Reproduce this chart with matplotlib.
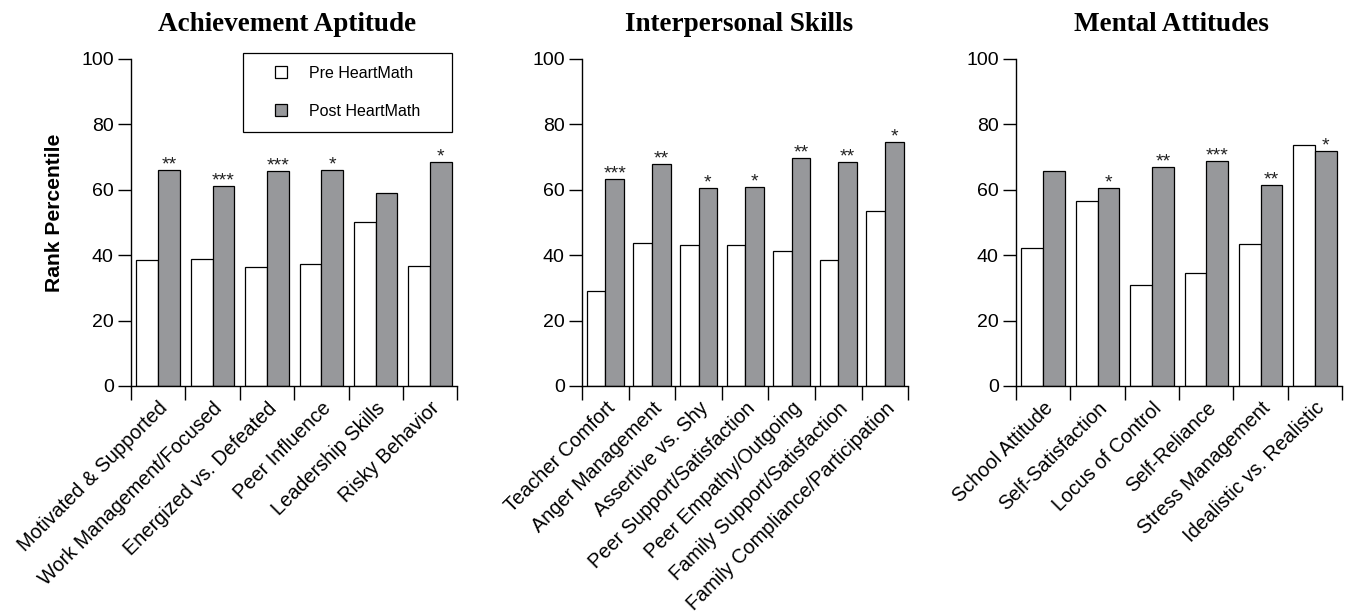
import matplotlib
matplotlib.use("Agg")
import matplotlib.pyplot as plt
from matplotlib.lines import Line2D
import numpy as np

#########################################################
# DATA
#########################################################
titles = ["Achievement Aptitude", "Interpersonal Skills", "Mental Attitudes"]

cats_achievement = ["Motivated & Supported", "Work Management/Focused",
                    "Energized vs. Defeated", "Peer Influence",
                    "Leadership Skills", "Risky Behavior"]
pre_achievement = [38.5, 38.7, 36.5, 37.2, 50.1, 36.7]
post_achievement = [66.0, 61.3, 65.7, 66.2, 59.0, 68.5]
stars_achievement = ["**", "***", "***", "*", "", "*"]

cats_interpersonal = ["Teacher Comfort", "Anger Management", "Assertive vs. Shy",
                      "Peer Support/Satisfaction", "Peer Empathy/Outgoing",
                      "Family Support/Satisfaction",
                      "Family Compliance/Participation"]
pre_interpersonal = [29.1, 43.8, 43.1, 43.0, 41.4, 38.5, 53.5]
post_interpersonal = [63.2, 68.0, 60.5, 60.9, 69.7, 68.6, 74.6]
stars_interpersonal = ["***", "**", "*", "*", "**", "**", "*"]

cats_mental = ["School Attitude", "Self-Satisfaction", "Locus of Control",
               "Self-Reliance", "Stress Management", "Idealistic vs. Realistic"]
pre_mental = [42.1, 56.6, 30.8, 34.5, 43.5, 73.7]
post_mental = [65.8, 60.5, 66.9, 68.7, 61.4, 71.8]
stars_mental = ["", "*", "**", "***", "**", "*"]

y_ticks = [0, 20, 40, 60, 80, 100]

#########################################################
# STYLE
#########################################################
COLOR_PRE = "white"
COLOR_POST = "#97989b"
SANS = "Liberation Sans"
SERIF = "Liberation Serif"
W = 0.4

fig = plt.figure(figsize=(13.48, 6.12), dpi=100)

panels = [
    (cats_achievement, pre_achievement, post_achievement, stars_achievement, 0.0972, 0.478),
    (cats_interpersonal, pre_interpersonal, post_interpersonal, stars_interpersonal, 0.4318, 0.48),
    (cats_mental, pre_mental, post_mental, stars_mental, 0.7537, 0.478),
]

axes = []
for i, (cats, pre, post, stars, left, tx) in enumerate(panels):
    ax = fig.add_axes([left, 0.3693, 0.2420, 0.5343])
    axes.append(ax)
    x = np.arange(len(cats))

    ax.bar(x - W/2, pre, width=W, color=COLOR_PRE, edgecolor="black",
           linewidth=0.9)
    ax.bar(x + W/2, post, width=W, color=COLOR_POST, edgecolor="black",
           linewidth=0.9)

    # significance stars over post bars
    for xi, v, s in zip(x, post, stars):
        if s:
            ax.annotate(s, xy=(xi + W/2, v), xytext=(0, -2.5),
                        textcoords="offset points", ha="center", va="bottom",
                        fontsize=14, family=SANS, color="#222222")

    ax.set_xlim(-0.5, len(cats) - 0.5)
    ax.set_ylim(0, 100)
    ax.spines["top"].set_visible(False)
    ax.spines["right"].set_visible(False)
    ax.spines["left"].set_linewidth(1.0)
    ax.spines["bottom"].set_linewidth(1.0)

    ax.set_yticks(y_ticks)
    ax.set_yticklabels([str(t) for t in y_ticks], fontsize=14, family=SANS)
    ax.tick_params(axis="y", length=9.5, width=1.0, pad=3)

    # labels at group centres, ticks at group boundaries
    ax.set_xticks(x)
    ax.set_xticklabels(cats, rotation=45, ha="right", rotation_mode="anchor",
                       fontsize=14.3, family=SANS)
    ax.tick_params(axis="x", which="major", length=0, pad=9)
    ax.set_xticks(np.arange(len(cats) + 1) - 0.5, minor=True)
    ax.tick_params(axis="x", which="minor", length=10, width=1.0)

    ax.text(tx, 1.105, titles[i], transform=ax.transAxes, ha="center",
            va="center", fontsize=19.5, fontweight="bold", family=SERIF)

axes[0].set_ylabel("Rank Percentile", fontsize=15.2, fontweight="bold",
                   family=SANS)
axes[0].yaxis.set_label_coords(-0.205, 0.53)

handles = [
    Line2D([], [], linestyle="none", marker="s", markersize=8.6,
           markerfacecolor=COLOR_PRE, markeredgecolor="black", markeredgewidth=0.9),
    Line2D([], [], linestyle="none", marker="s", markersize=8.6,
           markerfacecolor=COLOR_POST, markeredgecolor="black", markeredgewidth=0.9),
]
leg = axes[0].legend(handles, ["Pre HeartMath", "Post HeartMath"],
                     loc="upper left", bbox_to_anchor=(0.3436, 0.5, 0.641, 0.518),
                     mode="expand", borderaxespad=0, fancybox=False,
                     edgecolor="black", framealpha=1,
                     prop={"family": SANS, "size": 11.5},
                     handlelength=3.1, handletextpad=0.25,
                     labelspacing=1.45, borderpad=0.8)
leg.get_frame().set_linewidth(0.9)

plt.savefig("out.png", dpi=100)
